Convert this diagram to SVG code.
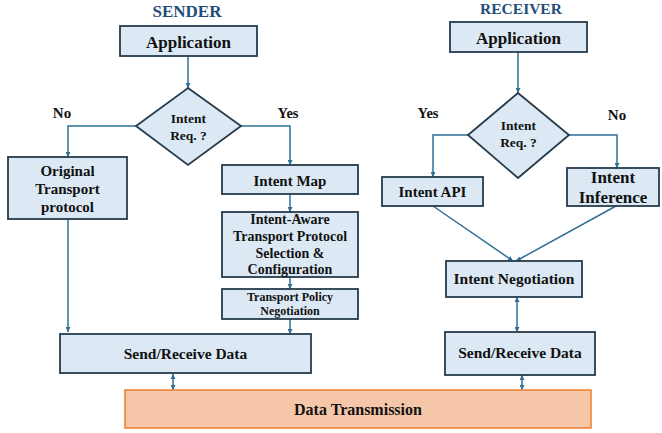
<svg xmlns="http://www.w3.org/2000/svg" width="662" height="433" viewBox="0 0 662 433" font-family="'Liberation Serif', 'DejaVu Serif', serif">
<defs>
<style>
text{font-family:'Liberation Serif','DejaVu Serif',serif;font-weight:700;fill:#111;text-anchor:middle}
.box{fill:#dce9f5;stroke:#253b4c;stroke-width:1.8}
.dt{fill:#f6c6a9;stroke:#ed7d31;stroke-width:1.5}
.title{fill:#1f4e79}
.c{fill:none;stroke:#2e6f95;stroke-width:1.5}
</style>
<marker id="ah" viewBox="0 0 6 6" refX="6" refY="3" markerWidth="5" markerHeight="5" markerUnits="userSpaceOnUse" orient="auto-start-reverse">
<path d="M0,0 L6,3 L0,6 Z" fill="#2e6f95"/>
</marker>
</defs>
<rect width="662" height="433" fill="#fff"/>
<text class="title" x="187" y="17" font-size="17">SENDER</text>
<text class="title" x="521" y="14" font-size="15.5">RECEIVER</text>

<g id="connectors">
<path class="c" d="M188,56 V88" marker-end="url(#ah)"/>
<path class="c" d="M136,126 H68 V157" marker-end="url(#ah)"/>
<path class="c" d="M241,126 H290 V165" marker-end="url(#ah)"/>
<path class="c" d="M290,194 V212" marker-end="url(#ah)"/>
<path class="c" d="M290,277 V289" marker-end="url(#ah)"/>
<path class="c" d="M290,319 V334" marker-end="url(#ah)"/>
<path class="c" d="M68,219 V332" marker-end="url(#ah)"/>
<path class="c" d="M173,374 V390" marker-start="url(#ah)" marker-end="url(#ah)"/>
<path class="c" d="M518,52 V93" marker-end="url(#ah)"/>
<path class="c" d="M468,135 H433 V177" marker-end="url(#ah)"/>
<path class="c" d="M569,135 H617 V168" marker-end="url(#ah)"/>
<path class="c" d="M433,206 L513,261" marker-end="url(#ah)"/>
<path class="c" d="M616,206 L516,261" marker-end="url(#ah)"/>
<path class="c" d="M517,297 V332" marker-start="url(#ah)" marker-end="url(#ah)"/>
<path class="c" d="M522,375 V390" marker-start="url(#ah)" marker-end="url(#ah)"/>
</g>

<g id="s-app">
<rect class="box" x="120" y="26" width="137" height="30"/>
<text x="188.5" y="48" font-size="17">Application</text>
</g>
<g id="s-intent">
<polygon class="box" points="188,88 241,126 188,165 136,126"/>
<text x="188.5" y="123" font-size="13.5">Intent</text>
<text x="188.5" y="140" font-size="13.5">Req. ?</text>
</g>
<text x="62" y="118" font-size="15">No</text>
<text x="288" y="118" font-size="14.5">Yes</text>
<g id="s-orig">
<rect class="box" x="8" y="157" width="119" height="62"/>
<text x="67.5" y="176" font-size="15">Original</text>
<text x="67.5" y="194" font-size="15">Transport</text>
<text x="67.5" y="212" font-size="15">protocol</text>
</g>
<g id="s-map">
<rect class="box" x="222" y="165" width="136" height="29"/>
<text x="290" y="186" font-size="15">Intent Map</text>
</g>
<g id="s-aware">
<rect class="box" x="222" y="212" width="136" height="65"/>
<text x="290" y="224" font-size="14">Intent-Aware</text>
<text x="290" y="241" font-size="14">Transport Protocol</text>
<text x="290" y="257.5" font-size="14">Selection &amp;</text>
<text x="290" y="274" font-size="14">Configuration</text>
</g>
<g id="s-policy">
<rect class="box" x="222" y="289" width="136" height="30"/>
<text x="290" y="301" font-size="12">Transport Policy</text>
<text x="290" y="315" font-size="12">Negotiation</text>
</g>
<g id="s-send">
<rect class="box" x="60" y="334" width="251" height="39"/>
<text x="185.5" y="359" font-size="15.5">Send/Receive Data</text>
</g>

<g id="r-app">
<rect class="box" x="450" y="22" width="137" height="30"/>
<text x="518.5" y="44" font-size="17">Application</text>
</g>
<g id="r-intent">
<polygon class="box" points="518,93 569,135 518,178 468,135"/>
<text x="518.5" y="130" font-size="13.5">Intent</text>
<text x="518.5" y="147" font-size="13.5">Req. ?</text>
</g>
<text x="428" y="118" font-size="14.5">Yes</text>
<text x="617" y="120" font-size="15">No</text>
<g id="r-api">
<rect class="box" x="382" y="177" width="101" height="29"/>
<text x="432.5" y="197" font-size="15">Intent API</text>
</g>
<g id="r-infer">
<rect class="box" x="567" y="168" width="92" height="38"/>
<text x="613" y="183" font-size="17">Intent</text>
<text x="613" y="203" font-size="17">Inference</text>
</g>
<g id="r-neg">
<rect class="box" x="446" y="261" width="136" height="36"/>
<text x="514" y="284" font-size="15.5">Intent Negotiation</text>
</g>
<g id="r-send">
<rect class="box" x="445" y="332" width="150" height="43"/>
<text x="520" y="358" font-size="15.5">Send/Receive Data</text>
</g>

<g id="transmission">
<rect class="dt" x="125" y="390" width="466" height="38"/>
<text x="358" y="415" font-size="16">Data Transmission</text>
</g>
</svg>
